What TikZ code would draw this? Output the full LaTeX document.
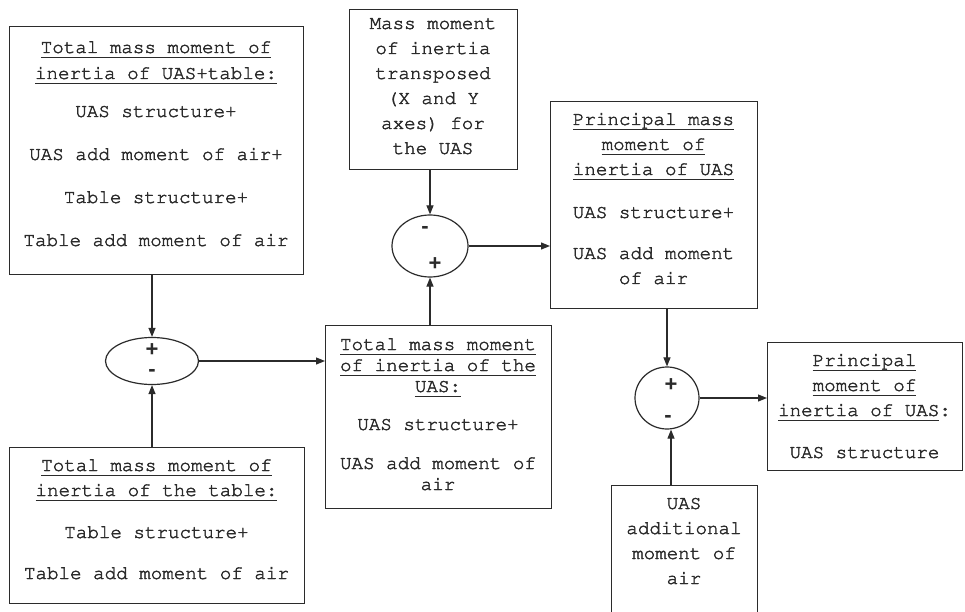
\documentclass[tikz,border=0pt]{standalone}
\usepackage[T1]{fontenc}
\usepackage{fontspec}
\setmainfont{Liberation Sans}
\setsansfont{Liberation Sans}
\setmonofont{Liberation Mono}
\usetikzlibrary{arrows.meta,shapes.geometric}
\definecolor{ink}{HTML}{2B2B2B}
\newcommand\crfont{\fontencoding{T1}\fontfamily{pcr}\selectfont}
\newcommand\heavier{\special{pdf:literal direct 2 Tr 0.4 w 0.17 0.17 0.17 RG}}
\newcommand\ulin[1]{\leavevmode\setbox0\hbox{#1}\rlap{\color{ink}\rule[-5pt]{\wd0}{1.3pt}}\box0}
\newcommand\boxtext[2]{\parbox[t]{#1}{\centering\leavevmode\heavier #2}}
\tikzset{
  x=1pt, y=-1pt,
  blk/.style={draw=ink, line width=1.4pt, rectangle, inner sep=0pt, anchor=north west},
  txt/.style={inner sep=0pt, anchor=base, text=ink, font=\crfont\fontsize{19.2}{25}\selectfont},
  sumj/.style={draw=ink, line width=1.2pt, ellipse, inner sep=0pt},
  sgn/.style={inner sep=0pt, text=ink, font=\sffamily\bfseries\fontsize{22}{22}\selectfont},
  conn/.style={draw=ink, line width=1.1pt, -{Triangle[length=9pt,width=7pt]}},
}
\begin{document}
\begin{tikzpicture}
\path[fill=white] (0,0) rectangle (965,612);
\useasboundingbox (0,0) rectangle (965,612);

% boxes
\node[blk, minimum width=294pt, minimum height=248pt] (A) at (9,26) {};
\node[blk, minimum width=168pt, minimum height=160pt] (B) at (349,9) {};
\node[blk, minimum width=226pt, minimum height=183pt] (C) at (325,325) {};
\node[blk, minimum width=295pt, minimum height=156pt] (D) at (9,447) {};
\node[blk, minimum width=207pt, minimum height=207pt] (P) at (550,101) {};
\node[blk, minimum width=195pt, minimum height=128pt] (F) at (767,342) {};
\node[blk, minimum width=146pt, minimum height=140pt] (G) at (611,485) {};

% texts
\node[txt, font=\crfont\fontsize{19.2}{26}\selectfont] (At) at (156,53) {\boxtext{290pt}{%
\ulin{Total mass moment of}\\
\ulin{inertia of UAS+table:}\\[12pt]
UAS structure+\\[17pt]
UAS add moment of air+\\[17pt]
Table structure+\\[17pt]
Table add moment of air}};

\node[txt] (Bt) at (433,29) {\boxtext{164pt}{%
Mass moment\\ of inertia\\ transposed\\ (X and Y\\ axes) for\\ the UAS}};

\node[txt, font=\crfont\fontsize{19.2}{21}\selectfont] (Ct) at (438,350) {\boxtext{222pt}{%
\ulin{Total mass moment}\\
\ulin{of inertia of the}\\
\ulin{UAS:}\\[17pt]
UAS structure+\\[18pt]
UAS add moment of\\ air}};

\node[txt] (Dt) at (156.5,471) {\boxtext{291pt}{%
\ulin{Total mass moment of}\\
\ulin{inertia of the table:}\\[17pt]
Table structure+\\[16pt]
Table add moment of air}};

\node[txt] (Pt) at (653.5,125) {\boxtext{203pt}{%
\ulin{Principal mass}\\
\ulin{moment of}\\
\ulin{inertia of UAS}\\[18pt]
UAS structure+\\[16pt]
UAS add moment\\ of air}};

\node[txt] (Ft) at (864.5,366) {\boxtext{191pt}{%
\ulin{Principal}\\
\ulin{moment of}\\
\ulin{inertia of UAS}:\\[17pt]
UAS structure}};

\node[txt] (Gt) at (684,509) {\boxtext{142pt}{%
UAS\\ additional\\ moment of\\ air}};

% summing junctions
\node[sumj, minimum width=93pt, minimum height=47pt] (E1) at (152,361) {};
\node[sumj, minimum width=76pt, minimum height=62pt] (E2) at (430,246) {};
\node[sumj, minimum width=64pt, minimum height=62pt] (E3) at (667,398) {};

\node[sgn] (E1p) at (152,350) {+};
\node[sgn] (E1m) at (152,373) {-};
\node[sgn] (E2m) at (425,230) {-};
\node[sgn] (E2p) at (435,264) {+};
\node[sgn] (E3p) at (671,385) {+};
\node[sgn] (E3m) at (668,419) {-};

% connectors
\draw[conn] (E1.north |- A.south) -- (E1.north);
\draw[conn] (E1.south |- D.north) -- (E1.south);
\draw[conn] (E1.east) -- (E1.east -| C.west);
\draw[conn] (E2.north |- B.south) -- (E2.north);
\draw[conn] (E2.south |- C.north) -- (E2.south);
\draw[conn] (E2.east) -- (E2.east -| P.west);
\draw[conn] (E3.north |- P.south) -- (E3.north);
\draw[conn] ([xshift=4pt]E3.south |- G.north) -- ([xshift=4pt]E3.south);
\draw[conn] (E3.east) -- (E3.east -| F.west);
\end{tikzpicture}
\end{document}
